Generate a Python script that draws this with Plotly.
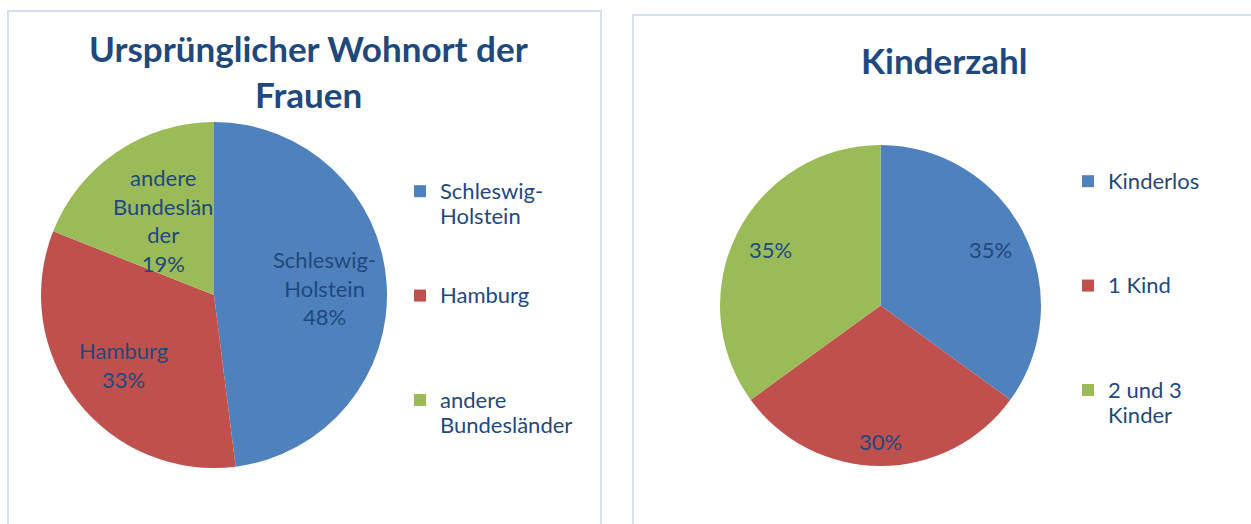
import math
import plotly.graph_objects as go

W, H = 1251, 524

# ---------------- data ----------------
wohnort_categories = ["Schleswig-Holstein", "Hamburg", "andere Bundesländer"]
wohnort_values = [48, 33, 19]
# wrapped forms of the category names, as they appear in the chart
wohnort_slice_names = ["Schleswig-<br>Holstein", "Hamburg", "andere<br>Bundeslän<br>der"]
wohnort_legend_names = ["Schleswig-<br>Holstein", "Hamburg", "andere<br>Bundesländer"]

kinder_categories = ["Kinderlos", "1 Kind", "2 und 3 Kinder"]
kinder_values = [35, 30, 35]
kinder_legend_names = ["Kinderlos", "1 Kind", "2 und 3<br>Kinder"]

# ---------------- style ----------------
colors = ["#4f81bd", "#c0504d", "#9bbb59"]
TXT = "#1f497d"
FONT = "Lato"
LABEL_SIZE = 22
LEGEND_LINE_SIZE = 19.5          # controls legend line height
LEGEND_LINES = 4                 # every legend entry occupies 4 lines
# relative radius at which the slice labels sit (Excel "best fit" look)
wohnort_label_radius = [0.64, 0.66, 0.52]
kinder_label_radius = [0.77, 0.85, 0.77]

# pie boxes in pixels (left, top, size)
PIE1 = dict(x0=40, x1=388, y0=122, y1=468)
PIE2 = dict(x0=720, x1=1041, y0=145, y1=466)


def px_x(x):
    return x / W


def px_y(y):
    return 1 - y / H


def legend_text(name):
    lines = name.split("<br>")
    styled = ["<span style='font-size:%dpx'>%s</span>" % (LABEL_SIZE, ln) for ln in lines]
    styled += ["&nbsp;"] * (LEGEND_LINES - len(lines))
    return "<br>".join(styled)


def slice_labels(values, names, box, radius_factors):
    total = float(sum(values))
    cx = (box["x0"] + box["x1"]) / 2.0
    cy = (box["y0"] + box["y1"]) / 2.0
    r = min(box["x1"] - box["x0"], box["y1"] - box["y0"]) / 2.0
    out = []
    cum = 0.0
    for v, name, f in zip(values, names, radius_factors):
        mid = (cum + v / 2.0) / total * 2 * math.pi   # clockwise from 12 o'clock
        cum += v
        pct = "%d%%" % round(v / total * 100)
        text = pct if name is None else name + "<br>" + pct
        out.append(dict(
            text=text,
            x=px_x(cx + f * r * math.sin(mid)),
            y=px_y(cy - f * r * math.cos(mid)),
            xref="paper", yref="paper", showarrow=False,
            xanchor="center", yanchor="middle", align="center",
            font=dict(family=FONT, size=LABEL_SIZE, color=TXT),
        ))
    return out


fig = go.Figure()

fig.add_trace(go.Pie(
    labels=[legend_text(n) for n in wohnort_legend_names],
    values=wohnort_values,
    customdata=wohnort_categories,
    textinfo="none",
    hovertemplate="%{customdata}: %{percent}<extra></extra>",
    marker=dict(colors=colors, line=dict(width=0)),
    sort=False,
    direction="clockwise",
    rotation=0,
    domain=dict(x=[px_x(PIE1["x0"]), px_x(PIE1["x1"])],
                y=[px_y(PIE1["y1"]), px_y(PIE1["y0"])]),
    legend="legend",
))

fig.add_trace(go.Pie(
    labels=[legend_text(n) for n in kinder_legend_names],
    values=kinder_values,
    customdata=kinder_categories,
    textinfo="none",
    hovertemplate="%{customdata}: %{percent}<extra></extra>",
    marker=dict(colors=colors, line=dict(width=0)),
    sort=False,
    direction="clockwise",
    rotation=0,
    domain=dict(x=[px_x(PIE2["x0"]), px_x(PIE2["x1"])],
                y=[px_y(PIE2["y1"]), px_y(PIE2["y0"])]),
    legend="legend2",
))

legend_common = dict(
    font=dict(family=FONT, size=LEGEND_LINE_SIZE, color=TXT),
    valign="top",
    bgcolor="rgba(0,0,0,0)",
    borderwidth=0,
    xanchor="left",
    yanchor="top",
    itemclick=False,
    itemdoubleclick=False,
)

annotations = [
    dict(text="<b>Ursprünglicher Wohnort der</b>", x=px_x(308), y=px_y(48),
         xref="paper", yref="paper", showarrow=False,
         xanchor="center", yanchor="middle",
         font=dict(family=FONT, size=35, color=TXT)),
    dict(text="<b>Frauen</b>", x=px_x(308), y=px_y(94),
         xref="paper", yref="paper", showarrow=False,
         xanchor="center", yanchor="middle",
         font=dict(family=FONT, size=35, color=TXT)),
    dict(text="<b>Kinderzahl</b>", x=px_x(944), y=px_y(60),
         xref="paper", yref="paper", showarrow=False,
         xanchor="center", yanchor="middle",
         font=dict(family=FONT, size=35, color=TXT)),
]
annotations += slice_labels(wohnort_values, wohnort_slice_names, PIE1, wohnort_label_radius)
annotations += slice_labels(kinder_values, [None] * len(kinder_values), PIE2, kinder_label_radius)

fig.update_layout(
    width=W, height=H,
    margin=dict(l=0, r=0, t=0, b=0),
    paper_bgcolor="white",
    plot_bgcolor="white",
    showlegend=True,
    legend=dict(x=px_x(400), y=px_y(172), **legend_common),
    legend2=dict(x=px_x(1068), y=px_y(162), **legend_common),
    shapes=[
        dict(type="rect", xref="paper", yref="paper",
             x0=px_x(8), x1=px_x(601), y0=px_y(540), y1=px_y(11),
             line=dict(color="#d5e1ef", width=2), fillcolor="rgba(0,0,0,0)"),
        dict(type="rect", xref="paper", yref="paper",
             x0=px_x(633), x1=px_x(1270), y0=px_y(540), y1=px_y(15),
             line=dict(color="#d5e1ef", width=2), fillcolor="rgba(0,0,0,0)"),
    ],
    annotations=annotations,
)

fig.write_html("out.html",
               config={"displayModeBar": False},
               post_script="document.body.style.margin='0';document.body.style.overflow='hidden';")
